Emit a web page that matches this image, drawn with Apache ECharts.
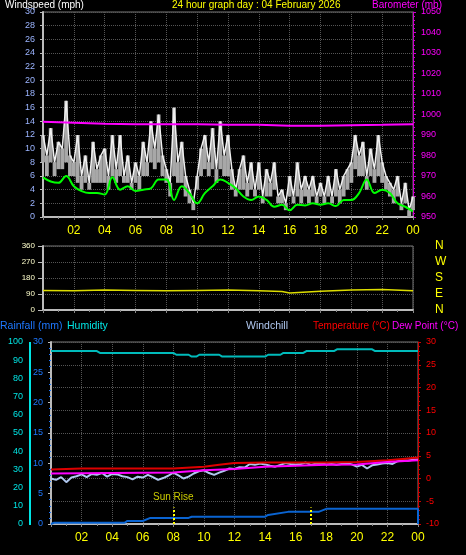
<!DOCTYPE html>
<html>
<head>
<meta charset="utf-8">
<script src="https://cdn.jsdelivr.net/npm/echarts@6/dist/echarts.min.js"></script>
<style>html,body{margin:0;background:#000}#main{width:466px;height:555px}</style>
</head>
<body>
<div id="main"></div>
<script>
// hours of the day, 0..24
var gustHours = [];  // 15 min steps
for (var i = 0; i <= 96; i++) gustHours.push(i / 4);
var windGust = [12,9,13,8,11,10,17,9, 8,12,6,9,5,11,7,9, 10,6,12,7,12,6,9,5, 8,6,11,8,14,10,15,9,
  7,5,16,8,11,6,4,2, 6,10,12,8,13,7,14,9, 12,7,4,7,9,5,8,4, 8,3,7,5,8,3,4,2,
  6,3,8,4,6,4,6,3, 5,3,6,3,7,4,6,7, 8,12,9,11,6,10,7,12, 8,6,5,4,6,2,5,1, 3];
var windLull = [8,6,8,6,7,7,8,6, 6,5,4,5,4,5,5,5, 5,4,6,5,6,5,5,4, 5,4,6,6,8,7,8,6,
  5,3,6,5,5,3,2,1, 4,6,7,6,7,5,7,6, 6,4,3,4,4,3,4,3, 4,2,3,3,4,2,2,1,
  3,2,3,2,3,2,3,2, 3,2,3,2,3,2,3,4, 5,7,6,6,4,6,5,6, 5,4,3,2,3,1,2,0, 1];
var avgHours = [];   // 30 min steps
for (var j = 0; j <= 48; j++) avgHours.push(j / 2);
var windAvg = [5.8,5.2,5,6,4.5,3.8,3.5,3.5,3.3,5.8,4,4.5,3.8,4,4.2,5.5,5.5,2.5,4.5,3.5,2,3.5,4.5,5.5,5,
  4.2,3,2.5,3,2.5,1.5,1.8,1,1.8,1.7,2,1.8,2,1.6,2.5,2.5,3.5,5.5,3.5,4,3.5,2,1.5,0.8];
var baroHours = [0, 2, 4, 6, 8, 10, 12, 14, 16, 18, 20, 22, 24];
var baro = [996.5, 996, 995.5, 995.2, 995.2, 995.2, 995, 995, 994.5, 994.5, 994.8, 995, 995.3];
var dirHours = [0, 2, 4, 6, 8, 10, 12, 14, 15.5, 16, 18, 20, 22, 24];
var windDir = [110, 108, 112, 110, 108, 110, 112, 108, 104, 96, 106, 112, 115, 108];
var humHours = [0, 3, 3.2, 8, 8.2, 9, 9.2, 9.5, 9.7, 11, 11.2, 14, 14.2, 15, 15.2, 16.5, 16.7, 18.5, 18.7, 21, 21.2, 24];
var humidity = [95, 95, 94, 94, 93, 93, 92, 92, 93, 93, 92, 92, 93, 93, 94, 94, 95, 95, 96, 96, 95, 95];
var rainHours = [0, 0.2, 4.8, 5, 6, 6.5, 9, 9.2, 14, 14.2, 15.5, 17.5, 18, 24, 24];
var rainfall = [0, 0.2, 0.2, 0.5, 0.5, 1, 1, 1.2, 1.2, 1.5, 2, 2, 2.5, 2.5, 0];
var tempHours = [0, 2, 8, 10, 11, 12, 14, 18, 20, 22, 23, 24];
var temperature = [2, 2.2, 2.2, 2.6, 3, 3.4, 3.5, 3.5, 3.6, 4, 4.3, 4.6];
var dewHours = [0, 4, 8, 10, 12, 14, 16, 18, 20, 22, 24];
var dewPoint = [1.1, 1.2, 1.3, 1.8, 2.1, 2.6, 2.8, 3, 3.1, 3.6, 4];
var chillHours = [];  // 20 min steps
for (var k = 0; k <= 72; k++) chillHours.push(k / 3);
var windchill = [0,-0.3,0.3,-0.8,0.2,0.5,0.9,0.3,1,0.8,1.2,0.4,1,0.9,0.5,0.3,-0.2,0.4,0.2,0.8,0.3,-0.3,0.1,0.6,
  1.3,0.7,0,0.4,1.1,1.6,1.8,1.2,0.8,1.3,1.7,2.2,2.1,2.5,2.4,3.2,3,3.3,3.1,2.8,2.6,3,3.4,3.2,
  3.1,3.2,3.5,3,3.3,3.4,3.1,3.2,3,3.2,3.4,3.1,2.6,3,2.2,2.9,3.1,3.3,3.4,3.2,3.8,4,3.9,4.1,4.2];

function pair(xs, ys) { return xs.map(function (x, i) { return [x, ys[i]]; }); }
var dirNames = { 0: 'N', 90: 'E', 180: 'S', 270: 'W', 360: 'N' };

var gridLine = { show: true, lineStyle: { color: '#555', type: 'dotted' } };
function hourAxis(gi, showLabels) {
  return {
    type: 'value', gridIndex: gi, min: 0, max: 24, interval: 2,
    axisLine: { lineStyle: { color: '#bbb', width: 2 } },
    axisTick: { show: true, length: 3, lineStyle: { color: '#888' } },
    minorTick: { show: true, splitNumber: 2, length: 2, lineStyle: { color: '#888' } },
    splitLine: gridLine,
    axisLabel: {
      show: showLabels, color: '#ffff00', fontSize: 12, fontFamily: 'Liberation Sans',
      formatter: function (v) { return v === 0 ? '' : String(v % 24).padStart(2, '0'); }
    }
  };
}
var hdr = '10.5px Liberation Sans';

var option = {
  backgroundColor: '#000',
  animation: false,
  textStyle: { fontFamily: 'Liberation Sans' },
  graphic: [
    { type: 'text', left: 5, top: 0, style: { text: 'Windspeed (mph)', fill: '#fff', font: '10px Liberation Sans' } },
    { type: 'text', left: 172, top: 0, style: { text: '24 hour graph day : 04 February 2026', fill: '#ffff00', font: '10px Liberation Sans' } },
    { type: 'text', left: 372, top: 0, style: { text: 'Barometer (mb)', fill: '#ff00ff', font: '10px Liberation Sans' } },
    { type: 'text', left: 0, top: 321, style: { text: 'Rainfall (mm)', fill: '#1e78ff', font: hdr } },
    { type: 'text', left: 67, top: 321, style: { text: 'Humidity', fill: '#00e5e5', font: hdr } },
    { type: 'text', left: 246, top: 321, style: { text: 'Windchill', fill: '#b0c8f0', font: hdr } },
    { type: 'text', left: 313, top: 321, style: { text: 'Temperature (°C)', fill: '#ff0000', font: '10px Liberation Sans' } },
    { type: 'text', left: 392, top: 321, style: { text: 'Dew Point (°C)', fill: '#ff00ff', font: '10px Liberation Sans' } },
    { type: 'rect', left: 29, top: 342, shape: { width: 2, height: 183 }, style: { fill: '#00e5e5' } }
  ],
  grid: [
    { left: 43, right: 53, top: 12, height: 205, show: true, borderColor: '#777' },
    { left: 43, right: 53, top: 246, height: 64, show: true, borderColor: '#777' },
    { left: 51, right: 48, top: 342, height: 182, show: true, borderColor: '#777' }
  ],
  xAxis: [hourAxis(0, true), hourAxis(1, false), hourAxis(2, true)],
  yAxis: [
    { type: 'value', gridIndex: 0, min: 0, max: 30, interval: 2,
      axisLine: { show: true, lineStyle: { color: '#bbb', width: 2 } },
      axisTick: { show: true, length: 3 }, splitLine: gridLine,
      axisLabel: { color: '#9bb4ff', fontSize: 9 } },
    { type: 'value', gridIndex: 0, position: 'right', min: 950, max: 1050, interval: 10,
      axisLine: { show: true, lineStyle: { color: '#cc00cc' } },
      axisTick: { show: true, length: 3 }, minorTick: { show: true, splitNumber: 5, length: 2 },
      splitLine: { show: false },
      axisLabel: { color: '#ff00ff', fontSize: 9, formatter: function (v) { return String(v); } } },
    { type: 'value', gridIndex: 1, min: 0, max: 360, interval: 90,
      axisLine: { show: true, lineStyle: { color: '#bbb', width: 2 } },
      splitLine: gridLine, axisLabel: { color: '#ffffcc', fontSize: 8 } },
    { type: 'value', gridIndex: 1, position: 'right', min: 0, max: 360, interval: 90,
      axisLine: { show: false }, axisTick: { show: false }, splitLine: { show: false },
      axisLabel: { color: '#ffff00', fontSize: 12, margin: 22, formatter: function (v) { return dirNames[v]; } } },
    { type: 'value', gridIndex: 2, min: 0, max: 30, interval: 5,
      axisLine: { show: true, lineStyle: { color: '#bbb', width: 2 } },
      axisTick: { show: true, length: 3 }, minorTick: { show: true, splitNumber: 5, length: 2, lineStyle: { color: '#1e78ff' } },
      splitLine: { show: false }, axisLabel: { color: '#1e78ff', fontSize: 9, margin: 8 } },
    { type: 'value', gridIndex: 2, position: 'left', offset: 22, min: 0, max: 100, interval: 10,
      axisLine: { show: false }, axisTick: { show: false }, splitLine: { show: false },
      axisLabel: { color: '#00e5e5', fontSize: 9, margin: 6 } },
    { type: 'value', gridIndex: 2, position: 'right', min: -10, max: 30, interval: 5,
      axisLine: { show: true, lineStyle: { color: '#cc0000' } },
      axisTick: { show: true, length: 3 }, minorTick: { show: true, splitNumber: 5, length: 2 },
      splitLine: gridLine, axisLabel: { color: '#ff0000', fontSize: 9 } }
  ],
  series: [
    // grey band from lull to gust for each 15 min slot
    { type: 'custom', xAxisIndex: 0, yAxisIndex: 0,
      data: gustHours.map(function (h, i) { return [h, windLull[i], windGust[i]]; }),
      renderItem: function (params, api) {
        var lo = api.coord([api.value(0) - 0.125, api.value(1)]);
        var hi = api.coord([api.value(0) + 0.125, api.value(2)]);
        return { type: 'rect', shape: { x: lo[0], y: hi[1], width: hi[0] - lo[0], height: lo[1] - hi[1] },
          style: { fill: '#a8a8a8' } };
      } },
    { type: 'line', xAxisIndex: 0, yAxisIndex: 0, data: pair(gustHours, windGust), symbol: 'none',
      lineStyle: { color: '#f0f0f0', width: 1.5 } },
    { type: 'line', xAxisIndex: 0, yAxisIndex: 0, data: pair(avgHours, windAvg), symbol: 'none', smooth: 0.4,
      lineStyle: { color: '#00ff00', width: 2 } },
    { type: 'line', xAxisIndex: 0, yAxisIndex: 1, data: pair(baroHours, baro), symbol: 'none',
      lineStyle: { color: '#ff00ff', width: 2 } },
    { type: 'line', xAxisIndex: 1, yAxisIndex: 2, data: pair(dirHours, windDir), symbol: 'none',
      lineStyle: { color: '#dddd00', width: 1.5 } },
    { type: 'line', xAxisIndex: 2, yAxisIndex: 5, data: pair(humHours, humidity), symbol: 'none',
      lineStyle: { color: '#00bbbb', width: 2 } },
    { type: 'line', xAxisIndex: 2, yAxisIndex: 4, data: pair(rainHours, rainfall), symbol: 'none',
      lineStyle: { color: '#0a64d2', width: 2 },
      markLine: { symbol: 'none', silent: true,
        lineStyle: { color: '#ffff00', type: 'dotted', width: 2 },
        data: [
          [{ coord: [8, 0], label: { show: true, position: 'end', formatter: 'Sun Rise', color: '#cccc00', fontSize: 10 } }, { coord: [8, 2.7] }],
          [{ coord: [17, 0], label: { show: false } }, { coord: [17, 2.7] }]
        ] } },
    { type: 'line', xAxisIndex: 2, yAxisIndex: 6, data: pair(chillHours, windchill), symbol: 'none',
      lineStyle: { color: '#b0c8f0', width: 2 } },
    { type: 'line', xAxisIndex: 2, yAxisIndex: 6, data: pair(tempHours, temperature), symbol: 'none',
      lineStyle: { color: '#dd0000', width: 2 } },
    { type: 'line', xAxisIndex: 2, yAxisIndex: 6, data: pair(dewHours, dewPoint), symbol: 'none',
      lineStyle: { color: '#ff00ff', width: 2 } }
  ]
};

var chart = echarts.init(document.getElementById('main'));
chart.setOption(option);
</script>
</body>
</html>
